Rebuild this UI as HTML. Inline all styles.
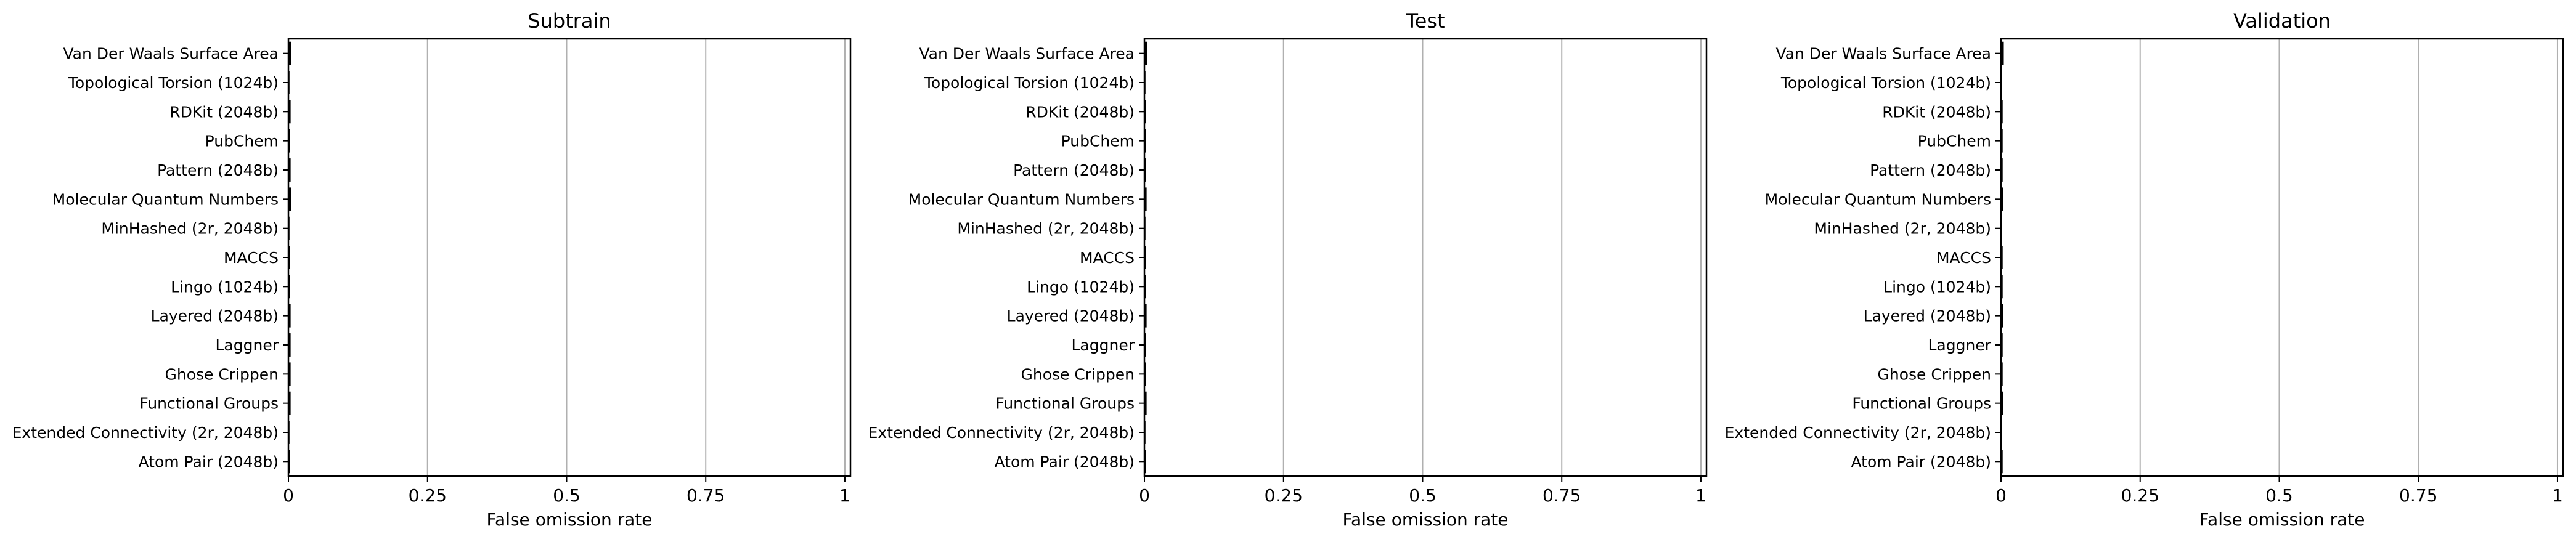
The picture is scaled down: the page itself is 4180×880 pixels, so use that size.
<!DOCTYPE html>
<html><head><meta charset="utf-8">
<style>
html,body{margin:0;padding:0;background:#fff;}
svg{display:block;font-family:"DejaVu Sans","Liberation Sans",sans-serif;}
</style></head>
<body>
<svg id="chart" width="4180" height="880" xmlns="http://www.w3.org/2000/svg"></svg>
<script>
const categories = ["Van Der Waals Surface Area","Topological Torsion (1024b)","RDKit (2048b)","PubChem","Pattern (2048b)","Molecular Quantum Numbers","MinHashed (2r, 2048b)","MACCS","Lingo (1024b)","Layered (2048b)","Laggner","Ghose Crippen","Functional Groups","Extended Connectivity (2r, 2048b)","Atom Pair (2048b)"];
const panelTitles = ["Subtrain","Test","Validation"];
const subtrainValues = [0.005,0.002,0.004,0.003,0.004,0.005,0.002,0.003,0.003,0.004,0.004,0.004,0.004,0.002,0.003];
const testValues = [0.005,0.002,0.003,0.003,0.003,0.004,0.002,0.003,0.003,0.004,0.003,0.003,0.004,0.002,0.003];
const validationValues = [0.005,0.002,0.003,0.003,0.003,0.004,0.002,0.003,0.003,0.004,0.003,0.003,0.004,0.002,0.003];
const xTicks = [0,0.25,0.5,0.75,1];
const xTickLabels = ["0","0.25","0.5","0.75","1"];
const xMax = 1.01;

const NS="http://www.w3.org/2000/svg";
const chartSvg=document.getElementById('chart');
function mk(tag,attrs,parent){const e=document.createElementNS(NS,tag);for(const k in attrs)e.setAttribute(k,attrs[k]);(parent||chartSvg).appendChild(e);return e;}

const allValues=[subtrainValues,testValues,validationValues];
const offsets=[468,1857,3247];
const W=912, axTop=63, axBottom=773;
const H=axBottom-axTop;
const n=categories.length;
const band=H/n;

allValues.forEach((vals,p)=>{
  const L=offsets[p];
  const g=mk('g',{});
  
  
  const x=v=>L+v/xMax*W;
  const y=i=>axTop+band*(i+0.5);
  xTicks.forEach((t,k)=>{
    const gl=mk('line',{x1:x(t),x2:x(t),y1:axTop,y2:axBottom,stroke:'#b0b0b0','stroke-width':2},g);
    
    
    const tk=mk('line',{x1:x(t),x2:x(t),y1:axBottom,y2:axBottom+9,stroke:'#000','stroke-width':2},g);
    
    
    const tl=mk('text',{x:x(t),y:814,'text-anchor':'middle','font-size':28,fill:'#000'},g);
    tl.textContent=xTickLabels[k];
    
    
  });
  vals.forEach((v,i)=>{
    const bh=band*0.8;
    const r=mk('rect',{x:x(0),y:y(i)-bh/2,width:Math.max(0,x(v)-x(0)),height:bh,fill:'#000'},g);
    
    
    const tk=mk('line',{x1:L-9,x2:L,y1:y(i),y2:y(i),stroke:'#000','stroke-width':2},g);
    
    
    const tl=mk('text',{x:L-16,y:y(i)+9,'text-anchor':'end','font-size':25,fill:'#000'},g);
    tl.textContent=categories[i];
    
    
  });
  const fr=mk('rect',{x:L,y:axTop,width:W,height:H,fill:'none',stroke:'#000','stroke-width':2.5},g);
  
  
  const ti=mk('text',{x:L+W/2,y:45,'text-anchor':'middle','font-size':32,fill:'#000'},g);
  ti.textContent=panelTitles[p];
  
  
  const xl=mk('text',{x:L+W/2,y:853,'text-anchor':'middle','font-size':28,fill:'#000'},g);
  xl.textContent='False omission rate';
  
  
});
</script>
</body></html>
